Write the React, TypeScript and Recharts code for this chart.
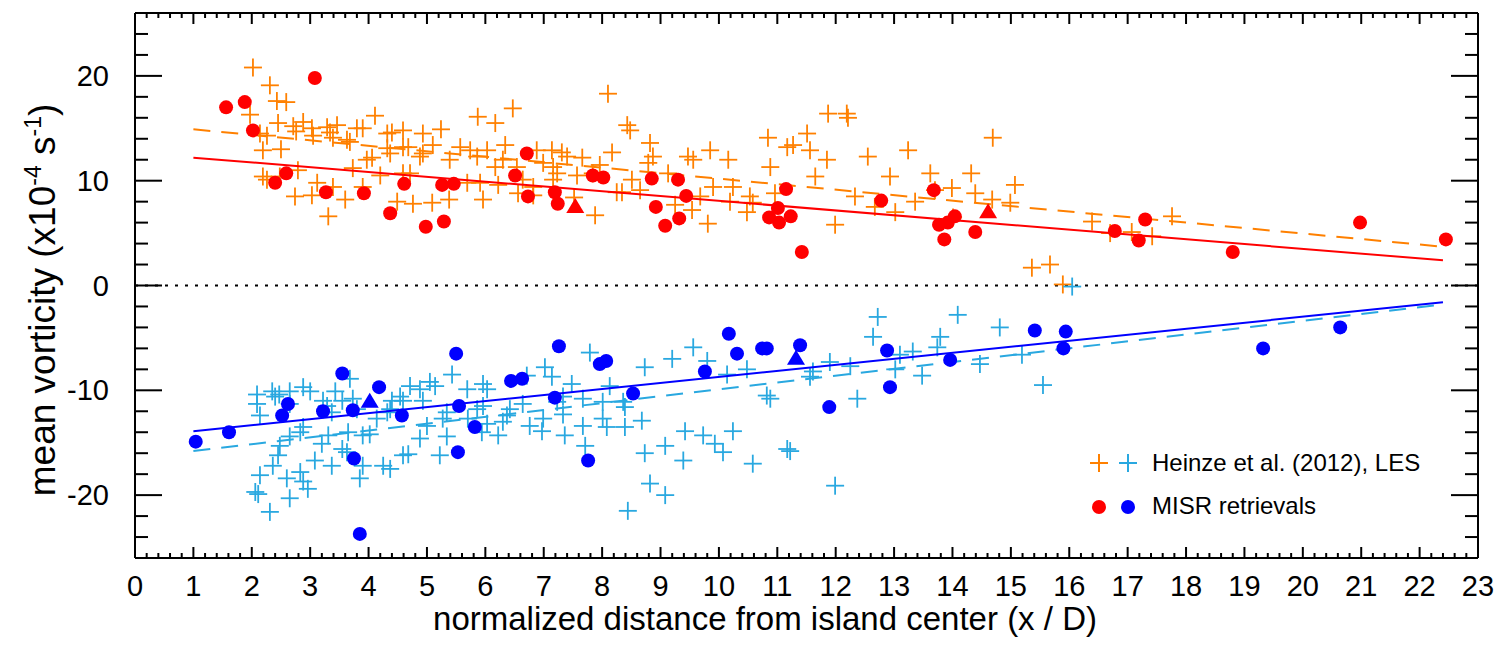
import { ScatterChart, Scatter, XAxis, YAxis, ReferenceLine } from 'recharts';

// x / D and mean vorticity (x10^-4 s^-1)
const lesCyclonic: [number, number][] = [
  [2.02, 20.8], [2.31, 19.1], [2.43, 17.6], [2.59, 17.5], [1.97, 16.3], [2.45, 15.5], [2.14, 14.5], [2.26, 14.3],
  [2.71, 15.2], [2.76, 14.7], [2.88, 15.6], [3.03, 15.0], [3.05, 14.3], [3.29, 15.1], [3.34, 14.6], [3.46, 15.3],
  [3.39, 14.1], [3.63, 13.9], [3.68, 13.7], [3.8, 15.0], [3.9, 15.0], [4.11, 16.2], [4.32, 14.5], [4.4, 14.6],
  [4.59, 14.8], [4.93, 14.5], [5.1, 13.4], [5.24, 14.9], [4.32, 13.1], [4.37, 12.6], [4.59, 13.2], [4.68, 13.2],
  [4.88, 12.3], [4.93, 12.6], [3.97, 12.0], [4.06, 12.2], [2.19, 12.9], [2.5, 13.0], [2.19, 10.4], [2.26, 10.1],
  [2.48, 10.4], [2.79, 11.0], [3.12, 9.8], [2.74, 8.5], [3.03, 8.6], [3.39, 9.4], [3.6, 8.2], [3.31, 6.6],
  [3.73, 11.2], [3.9, 9.4], [4.2, 10.5], [4.49, 8.0], [4.59, 10.7], [4.71, 10.7], [4.76, 7.8], [5.09, 7.9],
  [5.38, 8.2], [5.57, 13.2], [5.74, 12.9], [5.86, 12.3], [5.39, 12.0], [5.87, 16.1], [6.17, 15.5], [6.47, 16.9],
  [6.03, 12.9], [6.34, 13.4], [6.17, 11.3], [6.3, 12.0], [5.69, 9.8], [5.91, 9.8], [5.96, 8.2], [6.22, 9.6],
  [6.54, 11.3], [6.64, 10.1], [6.82, 9.4], [6.88, 12.9], [6.99, 11.7], [7.14, 12.9], [7.16, 11.3], [7.23, 10.7],
  [7.31, 12.7], [7.4, 12.3], [6.56, 8.8], [6.82, 8.6], [7.16, 10.1], [8.1, 18.3], [8.43, 15.3], [8.48, 14.8],
  [7.66, 12.2], [8.17, 12.7], [8.82, 13.6], [8.87, 12.3], [8.79, 11.7], [7.96, 11.5], [7.84, 10.7], [7.57, 10.5],
  [8.25, 8.9], [8.34, 8.9], [8.51, 10.1], [8.65, 9.1], [9.13, 10.7], [9.47, 12.3], [9.56, 12.0], [9.85, 12.9],
  [10.16, 12.0], [9.68, 8.5], [9.25, 7.7], [9.54, 7.2], [9.81, 5.9], [9.9, 9.4], [10.24, 9.4], [7.88, 6.7],
  [7.52, 8.4], [10.19, 8.0], [10.53, 8.5], [10.58, 7.9], [10.48, 7.0], [10.88, 11.3], [10.84, 14.1], [10.96, 8.8],
  [11.17, 13.2], [11.27, 13.4], [11.51, 14.5], [11.56, 12.9], [11.65, 10.4], [11.85, 12.0], [11.87, 16.4], [12.19, 16.4],
  [12.21, 16.0], [11.99, 5.8], [12.33, 8.5], [12.55, 12.3], [12.67, 7.5], [12.93, 10.4], [13.02, 7.0], [13.24, 12.9],
  [13.36, 8.0], [13.62, 10.7], [13.7, 9.1], [13.99, 9.3], [14.01, 6.5], [14.32, 10.7], [14.39, 8.8], [14.68, 8.2],
  [14.69, 14.1], [15.07, 9.6], [14.99, 7.9], [16.39, 6.1], [16.7, 5.0], [17.07, 5.1], [17.42, 4.7], [17.76, 6.6],
  [15.36, 1.7], [15.67, 2.0], [15.89, 0.1],
];

const lesAnticyclonic: [number, number][] = [
  [2.09, -10.4], [2.09, -11.3], [2.14, -12.4], [2.35, -10.1], [2.4, -10.6], [2.47, -10.4], [2.65, -10.1], [2.65, -11.3],
  [2.88, -9.7], [3.0, -10.1], [3.22, -11.0], [3.29, -11.5], [3.37, -12.1], [3.43, -10.1], [3.55, -11.0], [3.68, -8.9],
  [3.73, -10.8], [3.8, -11.8], [2.83, -14.0], [2.88, -13.5], [2.65, -14.4], [2.48, -15.3], [2.45, -16.2], [2.36, -17.2],
  [2.14, -18.1], [2.06, -19.7], [2.11, -19.9], [2.31, -21.6], [2.6, -18.4], [2.65, -20.3], [2.83, -17.8], [2.88, -18.7],
  [2.96, -19.4], [3.08, -16.7], [3.2, -15.1], [3.37, -17.2], [3.31, -14.3], [3.55, -15.6], [3.63, -15.9], [3.65, -14.0],
  [3.85, -18.4], [3.9, -17.2], [3.9, -14.3], [4.02, -14.2], [4.25, -17.2], [4.37, -17.5], [4.59, -16.2], [4.68, -16.1],
  [4.14, -12.7], [4.32, -12.1], [4.37, -11.8], [4.4, -11.0], [4.54, -10.6], [4.59, -11.0], [4.71, -9.6], [4.88, -9.9],
  [4.93, -11.0], [5.05, -9.2], [5.14, -9.6], [4.88, -14.6], [5.0, -13.4], [5.27, -12.7], [5.34, -12.1], [5.34, -14.4],
  [5.22, -16.2], [5.43, -8.5], [5.69, -9.9], [5.96, -9.4], [6.03, -9.9], [5.7, -12.7], [5.86, -11.8], [5.96, -11.5],
  [5.94, -14.0], [6.03, -13.2], [6.22, -14.3], [6.3, -13.0], [6.37, -12.4], [6.42, -11.8], [6.64, -11.3], [6.71, -8.6],
  [6.76, -13.4], [6.97, -13.9], [6.99, -12.7], [7.02, -7.8], [7.14, -8.7], [7.23, -11.1], [7.33, -10.6], [7.33, -12.3],
  [7.36, -14.3], [7.48, -9.4], [7.67, -10.8], [7.67, -13.4], [7.71, -15.3], [7.79, -6.4], [8.01, -11.1], [8.01, -12.7],
  [8.08, -13.5], [8.13, -9.6], [8.36, -11.1], [8.39, -11.6], [8.39, -13.5], [8.68, -12.9], [8.73, -7.8], [8.73, -16.0],
  [9.08, -15.3], [9.2, -7.0], [8.82, -18.9], [9.08, -20.0], [8.44, -21.5], [9.42, -13.9], [9.39, -16.7], [9.56, -5.9],
  [9.8, -7.2], [9.73, -14.3], [9.93, -15.1], [10.07, -15.9], [10.24, -13.9], [10.14, -8.5], [10.48, -8.0], [10.58, -17.0],
  [10.82, -10.5], [10.88, -10.8], [11.17, -15.6], [11.22, -15.8], [11.61, -8.2], [11.56, -8.7], [11.9, -7.3], [11.99, -19.1],
  [12.25, -7.7], [12.37, -10.8], [12.72, -3.0], [12.64, -4.9], [13.02, -8.0], [13.1, -6.6], [13.32, -6.3], [13.48, -8.6],
  [13.79, -4.9], [13.74, -5.9], [14.09, -2.8], [14.47, -7.5], [14.81, -4.0], [15.19, -6.6], [15.55, -9.5], [16.05, -0.1],
];

const misrCyclonic: [number, number][] = [
  [1.56, 17.0], [1.88, 17.5], [3.08, 19.8], [2.02, 14.8], [2.59, 10.7], [2.4, 9.8], [3.27, 8.9], [3.92, 8.8],
  [4.37, 6.9], [4.61, 9.7], [4.98, 5.6], [5.29, 6.1], [5.26, 9.6], [5.46, 9.7], [6.71, 12.6], [6.51, 10.5],
  [6.73, 8.5], [7.19, 8.9], [7.24, 7.8], [7.84, 10.5], [8.02, 10.3], [8.85, 10.2], [9.3, 10.1], [9.44, 8.55],
  [8.92, 7.5], [9.08, 5.7], [9.32, 6.4], [11.15, 9.2], [11.01, 7.4], [10.86, 6.5], [11.03, 6.0], [11.23, 6.6],
  [11.42, 3.2], [12.78, 8.1], [13.68, 9.1], [13.77, 5.8], [13.92, 6.0], [14.04, 6.6], [13.86, 4.4], [14.39, 5.1],
  [16.78, 5.2], [17.3, 6.3], [17.19, 4.3], [18.8, 3.2], [20.98, 6.0], [22.45, 4.4],
];

const misrAnticyclonic: [number, number][] = [
  [1.04, -14.9], [1.61, -14.0], [2.62, -11.3], [2.52, -12.4], [3.55, -8.4], [3.22, -12.0], [3.73, -11.9], [4.18, -9.7],
  [4.57, -12.4], [3.75, -16.5], [3.85, -23.7], [5.5, -6.5], [5.55, -11.5], [5.82, -13.5], [5.53, -15.9], [6.44, -9.1],
  [6.63, -8.9], [7.19, -10.7], [7.26, -5.8], [7.96, -7.5], [8.07, -7.2], [7.76, -16.7], [8.53, -10.3], [9.76, -8.2],
  [10.17, -4.6], [10.31, -6.5], [10.74, -6.0], [10.82, -6.0], [11.39, -5.7], [11.89, -11.6], [12.88, -6.2], [12.93, -9.7],
  [13.96, -7.1], [15.41, -4.3], [15.94, -4.4], [15.9, -6.0], [19.32, -6.0], [20.64, -4.0],
];

const misrCyclonicTri: [number, number][] = [[7.54, 7.5], [14.61, 7.0]];
const misrAnticyclonicTri: [number, number][] = [[4.02, -11.1], [11.32, -7.0]];

// linear fits (end points)
const lesCyclonicFit: [number, number][] = [[1.0, 14.9], [22.4, 3.7]];
const misrCyclonicFit: [number, number][] = [[1.0, 12.2], [22.4, 2.4]];
const misrAnticyclonicFit: [number, number][] = [[1.0, -13.9], [22.4, -1.6]];
const lesAnticyclonicFit: [number, number][] = [[1.0, -15.8], [22.4, -1.8]];

const xTicks = Array.from({ length: 116 }, (_, i) => i / 5);
const yTicks = Array.from({ length: 27 }, (_, i) => -26 + 2 * i);

const ORANGE = '#ff8000';
const LIGHTBLUE = '#29a8e0';
const RED = '#ff0000';
const BLUE = '#0000ff';
const FONT = '"Liberation Sans", Arial, Helvetica, sans-serif';

const toPts = (arr: [number, number][]) => arr.map(([x, y]) => ({ x, y }));

const isInt = (v: number) => Math.abs(v - Math.round(v)) < 1e-6;

const BottomTick = (p: any) => {
  const v = p.payload.value;
  const major = isInt(v);
  return (
    <g>
      <line x1={p.x} x2={p.x} y1={p.y} y2={p.y - (major ? 11 : 5)} stroke="#000" strokeWidth={2} />
      {major && (
        <text x={p.x} y={p.y + 38} textAnchor="middle" fontSize={29} fontFamily={FONT} fill="#000">
          {Math.round(v)}
        </text>
      )}
    </g>
  );
};

const TopTick = (p: any) => {
  const major = isInt(p.payload.value);
  return <line x1={p.x} x2={p.x} y1={p.y} y2={p.y + (major ? 11 : 5)} stroke="#000" strokeWidth={2} />;
};

const LeftTick = (p: any) => {
  const v = p.payload.value;
  const major = v % 10 === 0;
  return (
    <g>
      <line x1={p.x} x2={p.x + (major ? 27 : 13)} y1={p.y} y2={p.y} stroke="#000" strokeWidth={2} />
      {major && (
        <text x={p.x - 26} y={p.y + 10} textAnchor="end" fontSize={29} fontFamily={FONT} fill="#000">
          {v}
        </text>
      )}
    </g>
  );
};

const RightTick = (p: any) => {
  const major = p.payload.value % 10 === 0;
  return <line x1={p.x} x2={p.x - (major ? 27 : 13)} y1={p.y} y2={p.y} stroke="#000" strokeWidth={2} />;
};

const Cross = (color: string) => (p: any) => (
  <g stroke={color} strokeWidth={1.8}>
    <line x1={p.cx - 9} x2={p.cx + 9} y1={p.cy} y2={p.cy} />
    <line x1={p.cx} x2={p.cx} y1={p.cy - 9} y2={p.cy + 9} />
  </g>
);

const Dot = (color: string) => (p: any) => <circle cx={p.cx} cy={p.cy} r={7} fill={color} />;

const Tri = (color: string) => (p: any) => (
  <path d={`M${p.cx},${p.cy - 9} L${p.cx + 9},${p.cy + 6} L${p.cx - 9},${p.cy + 6} Z`} fill={color} />
);

const NoShape = () => <g />;

export default function App() {
  const axisLine = { stroke: '#000', strokeWidth: 2 };
  return (
    <div style={{ position: 'absolute', left: 0, top: 0, width: 1503, height: 650, background: '#fff' }}>
      <ScatterChart width={1503} height={650} margin={{ top: 12, right: 24, bottom: 0, left: 0 }}>
        <XAxis
          dataKey="x"
          type="number"
          domain={[0, 23]}
          ticks={xTicks}
          interval={0}
          height={92}
          axisLine={axisLine}
          tickLine={false}
          tickSize={0}
          tickMargin={0}
          tick={BottomTick}
          allowDataOverflow
        />
        <XAxis
          xAxisId="top"
          dataKey="x"
          orientation="top"
          type="number"
          domain={[0, 23]}
          ticks={xTicks}
          interval={0}
          height={1}
          axisLine={axisLine}
          tickLine={false}
          tickSize={0}
          tickMargin={0}
          tick={TopTick}
          allowDataOverflow
        />
        <YAxis
          dataKey="y"
          type="number"
          domain={[-26, 26]}
          ticks={yTicks}
          interval={0}
          width={135}
          axisLine={axisLine}
          tickLine={false}
          tickSize={0}
          tickMargin={0}
          tick={LeftTick}
          allowDataOverflow
        />
        <YAxis
          yAxisId="right"
          dataKey="y"
          orientation="right"
          type="number"
          domain={[-26, 26]}
          ticks={yTicks}
          interval={0}
          width={1}
          axisLine={axisLine}
          tickLine={false}
          tickSize={0}
          tickMargin={0}
          tick={RightTick}
          allowDataOverflow
        />
        <ReferenceLine y={0} stroke="#000" strokeWidth={2} strokeDasharray="3 7" />
        {/* carries the mirrored top/right frame axes */}
        <Scatter
          xAxisId="top"
          yAxisId="right"
          data={toPts(misrCyclonicFit)}
          shape={NoShape}
          isAnimationActive={false}
        />
        <Scatter data={toPts(lesCyclonic)} shape={Cross(ORANGE)} isAnimationActive={false} />
        <Scatter data={toPts(lesAnticyclonic)} shape={Cross(LIGHTBLUE)} isAnimationActive={false} />
        <Scatter
          data={toPts(lesCyclonicFit)}
          shape={NoShape}
          line={{ stroke: ORANGE, strokeWidth: 2, strokeDasharray: '17 11' }}
          isAnimationActive={false}
        />
        <Scatter
          data={toPts(lesAnticyclonicFit)}
          shape={NoShape}
          line={{ stroke: LIGHTBLUE, strokeWidth: 2, strokeDasharray: '17 11' }}
          isAnimationActive={false}
        />
        <Scatter
          data={toPts(misrCyclonicFit)}
          shape={NoShape}
          line={{ stroke: RED, strokeWidth: 2 }}
          isAnimationActive={false}
        />
        <Scatter
          data={toPts(misrAnticyclonicFit)}
          shape={NoShape}
          line={{ stroke: BLUE, strokeWidth: 2 }}
          isAnimationActive={false}
        />
        <Scatter data={toPts(misrCyclonic)} shape={Dot(RED)} isAnimationActive={false} />
        <Scatter data={toPts(misrAnticyclonic)} shape={Dot(BLUE)} isAnimationActive={false} />
        <Scatter data={toPts(misrCyclonicTri)} shape={Tri(RED)} isAnimationActive={false} />
        <Scatter data={toPts(misrAnticyclonicTri)} shape={Tri(BLUE)} isAnimationActive={false} />
      </ScatterChart>
      <svg
        width={1503}
        height={650}
        style={{ position: 'absolute', left: 0, top: 0, pointerEvents: 'none' }}
        fontFamily={FONT}
      >
        <text transform="translate(55,300) rotate(-90)" textAnchor="middle" fontSize={37} fill="#000">
          mean vorticity (x10
          <tspan dy={-14} fontSize={23}>-4</tspan>
          <tspan dy={14}> s</tspan>
          <tspan dy={-14} fontSize={23}>-1</tspan>
          <tspan dy={14}>)</tspan>
        </text>
        <text x={765} y={630} textAnchor="middle" fontSize={33} fill="#000">
          normalized distance from island center (x / D)
        </text>
        <g strokeWidth={2}>
          <line x1={1090} x2={1108} y1={463} y2={463} stroke={ORANGE} />
          <line x1={1099} x2={1099} y1={454} y2={472} stroke={ORANGE} />
          <line x1={1119} x2={1137} y1={463} y2={463} stroke={LIGHTBLUE} />
          <line x1={1128} x2={1128} y1={454} y2={472} stroke={LIGHTBLUE} />
        </g>
        <text x={1152} y={471} fontSize={24} fill="#000">Heinze et al. (2012), LES</text>
        <circle cx={1099} cy={507} r={7} fill={RED} />
        <circle cx={1128} cy={507} r={7} fill={BLUE} />
        <text x={1152} y={514} fontSize={24} fill="#000">MISR retrievals</text>
      </svg>
    </div>
  );
}
